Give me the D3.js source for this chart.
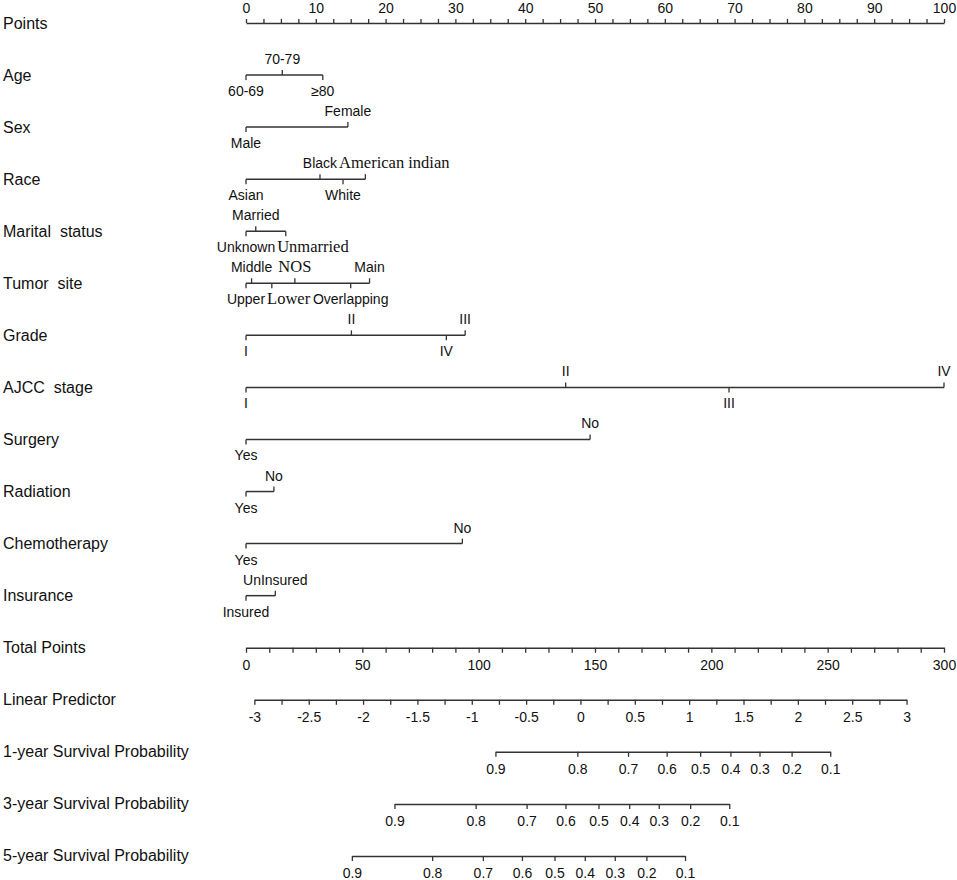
<!DOCTYPE html>
<html>
<head>
<meta charset="utf-8">
<script src="https://cdn.jsdelivr.net/npm/d3@7"></script>
<style>
  html, body { margin: 0; padding: 0; background: #fff; }
  svg text { white-space: pre; }
</style>
</head>
<body>
<svg id="chart" width="957" height="880"></svg>
<script>
// ---------------- data ----------------
const rowLabels = ["Points", "Age", "Sex", "Race", "Marital  status", "Tumor  site", "Grade",
  "AJCC  stage", "Surgery", "Radiation", "Chemotherapy", "Insurance", "Total Points",
  "Linear Predictor", "1-year Survival Probability", "3-year Survival Probability",
  "5-year Survival Probability"];

const pointsTickLabels = [0, 10, 20, 30, 40, 50, 60, 70, 80, 90, 100];

const ageLevels = ["60-69", "70-79", "≥80"];
const agePoints = [0, 5.2, 11.0];
const sexLevels = ["Male", "Female"];
const sexPoints = [0, 14.6];
const raceLevels = ["Asian", "Black", "White", "American indian"];
const racePoints = [0, 10.6, 13.9, 17.1];
const maritalLevels = ["Unknown", "Married", "Unmarried"];
const maritalPoints = [0, 1.4, 5.7];
const siteLevels = ["Upper", "Middle", "Lower", "NOS", "Overlapping", "Main"];
const sitePoints = [0, 0.8, 3.7, 7.0, 15.0, 17.7];
const gradeLevels = ["I", "II", "IV", "III"];
const gradePoints = [0, 15.1, 28.7, 31.4];
const stageLevels = ["I", "II", "III", "IV"];
const stagePoints = [0, 45.8, 69.2, 100];
const surgeryLevels = ["Yes", "No"];
const surgeryPoints = [0, 49.3];
const radiationLevels = ["Yes", "No"];
const radiationPoints = [0, 4.0];
const chemoLevels = ["Yes", "No"];
const chemoPoints = [0, 31.0];
const insuranceLevels = ["Insured", "UnInsured"];
const insurancePoints = [0, 4.2];

const serifLabels = ["American indian", "Unmarried", "NOS", "Lower"];

const totalPointsTickLabels = [0, 50, 100, 150, 200, 250, 300];

const lpTickLabels = [-3, -2.5, -2, -1.5, -1, -0.5, 0, 0.5, 1, 1.5, 2, 2.5, 3];
const lpTotalPoints = [3.6, 283.9];   // total points at LP = -3 and LP = 3

const survTicks = [0.9, 0.8, 0.7, 0.6, 0.5, 0.4, 0.3, 0.2, 0.1];
const surv1TotalPoints = [107.2, 142.4, 164.2, 180.8, 195.2, 208.2, 220.7, 234.5, 251.1];
const surv3TotalPoints = [63.8, 98.7, 120.6, 137.3, 151.5, 164.7, 177.4, 190.9, 207.7];
const surv5TotalPoints = [45.5, 80.0, 101.8, 118.6, 132.6, 145.6, 158.5, 172.1, 188.7];

// ---------------- layout ----------------
const svg = d3.select("#chart");
const X0 = 246, X1 = 944;
const rowY = i => 23 + 52.06 * i;
const LINE = "#333";
const SANS = "'Liberation Sans', Arial, sans-serif";
const SERIF = "'Liberation Serif', 'Times New Roman', serif";
const tickFont = 14;

const xPts = d3.scaleLinear().domain([0, 100]).range([X0, X1]);
const xTot = d3.scaleLinear().domain([0, 300]).range([X0, X1]);

// row labels
svg.append("g").selectAll("text").data(rowLabels).join("text")
  .attr("x", 3).attr("y", (d, i) => rowY(i) + 5.5)
  .attr("font-family", SANS).attr("font-size", 16).attr("fill", "#111")
  .text(d => d);

function styleAxis(g) {
  g.select(".domain").attr("stroke", LINE).attr("stroke-width", 1.5);
  g.selectAll(".tick line").attr("stroke", LINE).attr("stroke-width", 1.3);
  g.selectAll(".tick text").attr("font-family", SANS).attr("font-size", tickFont).attr("fill", "#111");
}

// Points axis
const ptsMinor = d3.range(0, 100.001, 2.5);
svg.append("g").attr("transform", `translate(0,${rowY(0)})`)
  .call(d3.axisTop(xPts).tickValues(ptsMinor).tickSize(4).tickSizeOuter(0).tickPadding(6)
    .tickFormat(d => pointsTickLabels.includes(d) ? String(d) : ""))
  .call(styleAxis);

// variable rows
const vars = [
  [ageLevels, agePoints], [sexLevels, sexPoints], [raceLevels, racePoints],
  [maritalLevels, maritalPoints], [siteLevels, sitePoints], [gradeLevels, gradePoints],
  [stageLevels, stagePoints], [surgeryLevels, surgeryPoints], [radiationLevels, radiationPoints],
  [chemoLevels, chemoPoints], [insuranceLevels, insurancePoints]
];

vars.forEach(([levels, pts], vi) => {
  const y = rowY(vi + 1);
  const items = levels.map((l, k) => ({ label: l, p: pts[k] }))
    .sort((a, b) => a.p - b.p)
    .map((d, k) => ({ ...d, up: k % 2 === 1 }));
  const g = svg.append("g");
  g.append("line")
    .attr("x1", xPts(d3.min(pts))).attr("x2", xPts(d3.max(pts)))
    .attr("y1", y).attr("y2", y)
    .attr("stroke", LINE).attr("stroke-width", 1.5);
  g.selectAll("line.t").data(items).join("line").attr("class", "t")
    .attr("x1", d => xPts(d.p)).attr("x2", d => xPts(d.p))
    .attr("y1", y).attr("y2", d => d.up ? y - 5 : y + 5)
    .attr("stroke", LINE).attr("stroke-width", 1.3);
  const texts = g.selectAll("text").data(items).join("text")
    .attr("x", d => xPts(d.p))
    .attr("y", d => d.up ? y - 11 : y + 21)
    .attr("text-anchor", "middle")
    .attr("font-family", d => serifLabels.includes(d.label) ? SERIF : SANS)
    .attr("font-size", d => serifLabels.includes(d.label) ? 16.5 : tickFont)
    .attr("fill", "#111")
    .text(d => d.label);
  // avoid overlaps: push a label right when it collides with the previous one on the same side
  const lastRight = { true: -Infinity, false: -Infinity };
  texts.each(function (d) {
    const w = this.getComputedTextLength();
    let left = xPts(d.p) - w / 2;
    if (left < lastRight[d.up] + 2) {
      left = lastRight[d.up] + 2;
      d3.select(this).attr("text-anchor", "start").attr("x", left);
    }
    lastRight[d.up] = left + w;
  });
});

// Total Points axis
svg.append("g").attr("transform", `translate(0,${rowY(12)})`)
  .call(d3.axisBottom(xTot).tickValues(d3.range(0, 300.001, 10)).tickSize(5).tickSizeOuter(0).tickPadding(7)
    .tickFormat(d => totalPointsTickLabels.includes(d) ? String(d) : ""))
  .call(styleAxis);

// Linear predictor axis
const xLp = d3.scaleLinear().domain([-3, 3]).range(lpTotalPoints.map(xTot));
svg.append("g").attr("transform", `translate(0,${rowY(13)})`)
  .call(d3.axisBottom(xLp).tickValues(d3.range(-3, 3.001, 0.25)).tickSize(5).tickSizeOuter(0).tickPadding(7)
    .tickFormat(d => lpTickLabels.some(v => Math.abs(v - d) < 1e-9) ? String(Math.round(d * 10) / 10) : ""))
  .call(styleAxis);

// Survival axes
[surv1TotalPoints, surv3TotalPoints, surv5TotalPoints].forEach((tp, k) => {
  const s = d3.scaleLinear().domain(survTicks).range(tp.map(xTot));
  svg.append("g").attr("transform", `translate(0,${rowY(14 + k)})`)
    .call(d3.axisBottom(s).tickValues(survTicks).tickSize(5).tickSizeOuter(0).tickPadding(7)
      .tickFormat(d => String(d)))
    .call(styleAxis);
});
</script>
</body>
</html>
